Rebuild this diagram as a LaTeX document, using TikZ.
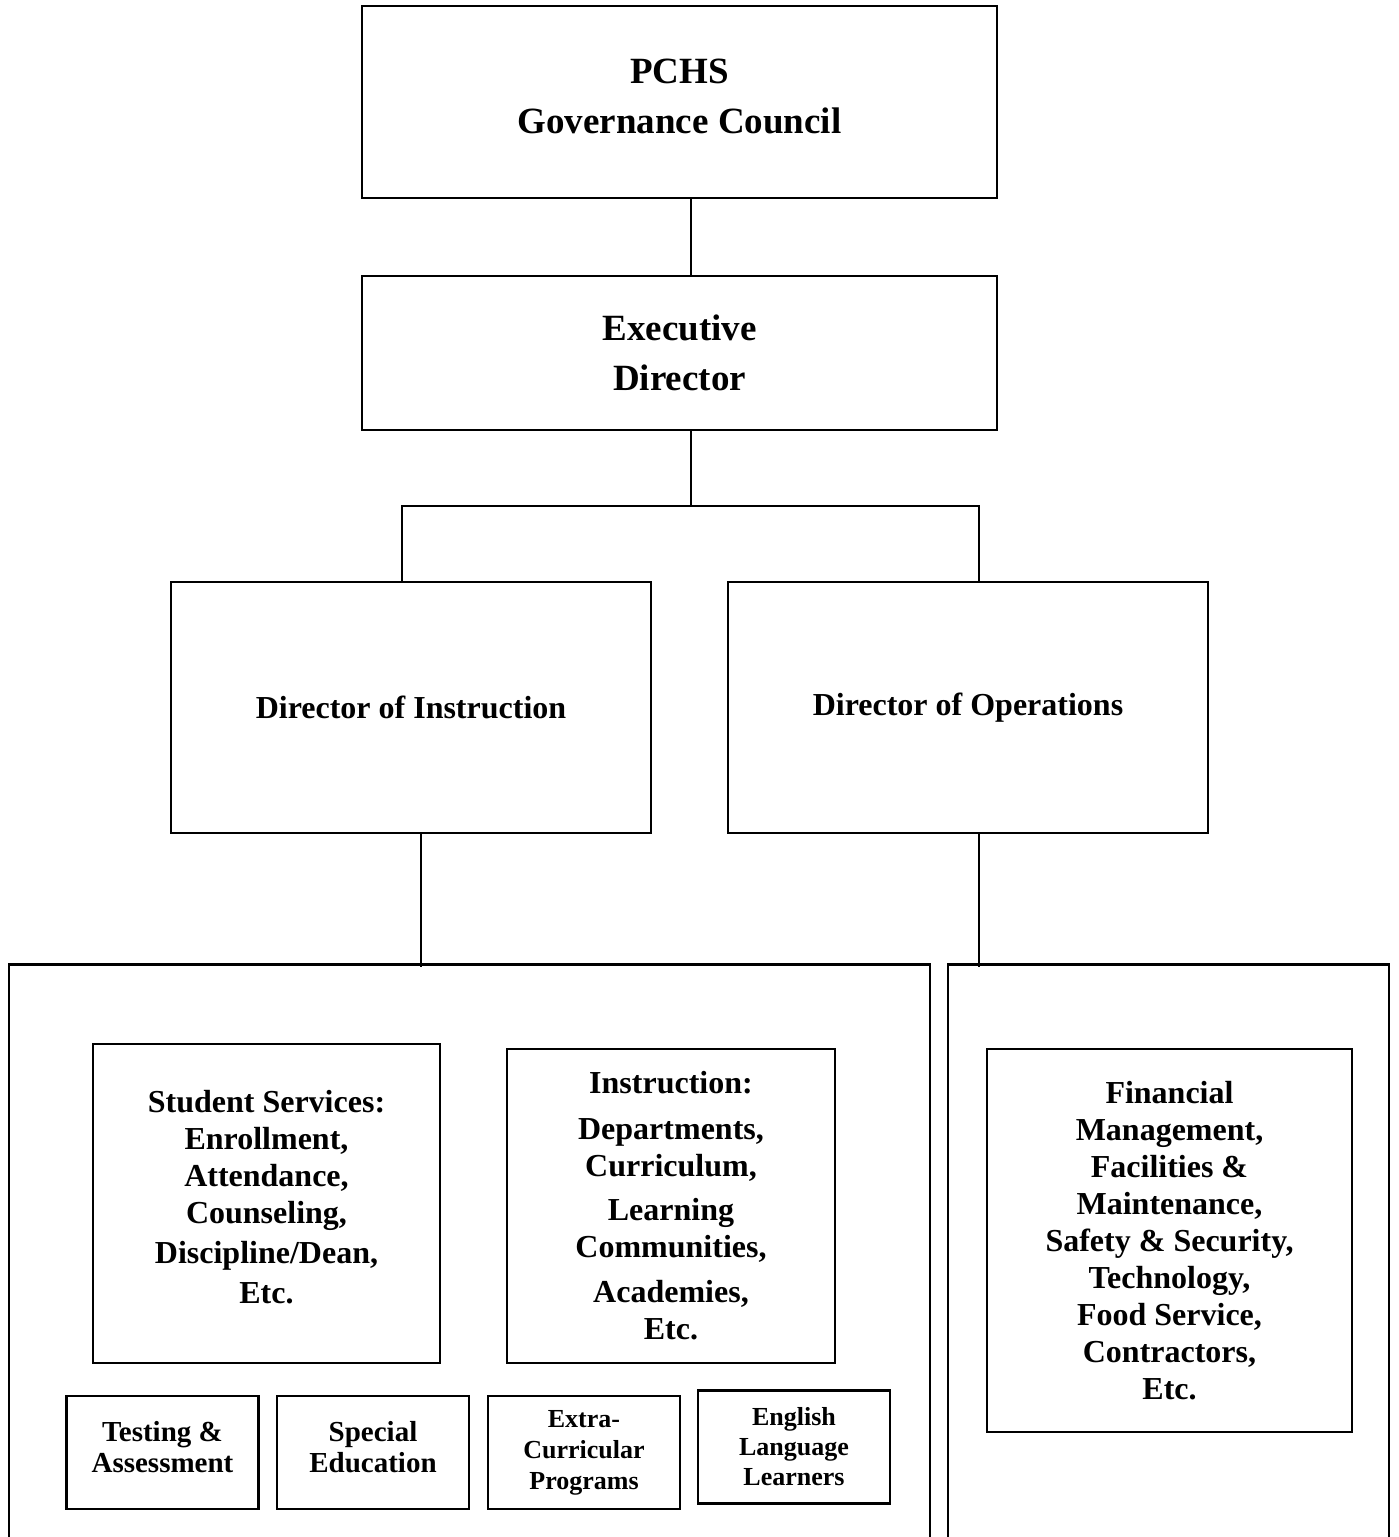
\documentclass[tikz,border=0pt]{standalone}
\usepackage{fontspec}
\setmainfont{Liberation Serif}
\begin{document}
\begin{tikzpicture}[x=1pt, y=-1pt,
    box/.style={draw, rectangle, line width=2.5pt, align=center, inner sep=0pt,
        font=\bfseries\fontsize{32}{37}\selectfont},
    head/.style={box, minimum width=635pt, font=\bfseries\fontsize{37}{50}\selectfont},
    unit/.style={box, minimum width=192pt, minimum height=113pt,
        font=\bfseries\fontsize{29}{31}\selectfont},
    link/.style={line width=2pt}]
   \useasboundingbox (0,0) rectangle (1398,1537);
   \clip (0,0) rectangle (1398,1537);
    % top of the chart
    \node (GC) [head, minimum height=192pt, text depth=12pt] at (679.5,102) {PCHS\\Governance Council};
    \node (ED) [head, minimum height=154pt] at (679.5,353) {Executive\\Director};
    \node (DI) [box, minimum width=480pt, minimum height=251pt] at (411,707.5) {Director of Instruction};
    \node (DO) [box, minimum width=480pt, minimum height=251pt] at (968,707.5) {Director of Operations};
    % the two groups
    \node (IG) [box, anchor=north, minimum width=921pt, minimum height=640pt] at (469.5,963) {};
    \node (OG) [box, anchor=north, minimum width=441pt, minimum height=640pt] at (1168.5,963) {};
    \node (SS) [box, minimum width=347pt, minimum height=319pt, text depth=14pt] at (266.5,1203.5)
        {Student Services:\\Enrollment,\\Attendance,\\Counseling,\\[3pt]Discipline/Dean,\\[3pt]Etc.};
    \node (IN) [box, minimum width=328pt, minimum height=314pt] at (671,1206)
        {Instruction:\\[9pt]Departments,\\Curriculum,\\[7pt]Learning\\Communities,\\[8pt]Academies,\\Etc.};
    \node (TA) [unit, text depth=12pt] at (162.5,1452.5) {Testing \&\\Assessment};
    \node (SE) [unit, text depth=12pt] at (373,1452.5) {Special\\Education};
    \node (EC) [unit, font=\bfseries\fontsize{26}{31}\selectfont] at (584,1452.5) {Extra-\\Curricular\\Programs};
    \node (EL) [unit, font=\bfseries\fontsize{26}{30}\selectfont] at (794,1447) {English\\Language\\Learners};
    \node (FM) [box, minimum width=365pt, minimum height=383pt] at (1169.5,1240.5)
        {Financial\\Management,\\Facilities \&\\Maintenance,\\Safety \& Security,\\Technology,\\Food Service,\\Contractors,\\Etc.};
    % connectors
    \coordinate (spine) at (691,506);
    \coordinate (lft) at (402,506);
    \coordinate (rgt) at (979,506);
    \coordinate (dl) at (421,0);
    \draw[link] (GC.south -| spine) -- (ED.north -| spine);
    \draw[link] (ED.south -| spine) -- (spine);
    \draw[link] (DI.north -| lft) |- (rgt) -- (DO.north -| rgt);
    \draw[link] (DI.south -| dl) -- ([yshift=-4pt]IG.north -| dl);
    \draw[link] (DO.south -| rgt) -- ([yshift=-4pt]OG.north -| rgt);
\end{tikzpicture}
\end{document}
